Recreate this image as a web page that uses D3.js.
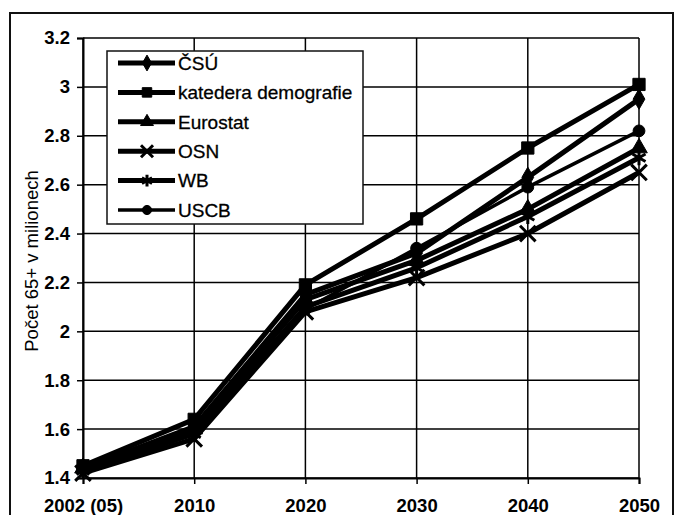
<!DOCTYPE html>
<html lang="cs">
<head>
<meta charset="utf-8">
<title>Počet 65+</title>
<script src="https://cdn.jsdelivr.net/npm/d3@7"></script>
<style>
  body { margin: 0; background: #fff; }
  text { font-family: "Liberation Sans", Arial, sans-serif; fill: #000; }
</style>
</head>
<body>
<script>
// data
var years = ["2002 (05)", "2010", "2020", "2030", "2040", "2050"];
var yTicks = [1.4, 1.6, 1.8, 2, 2.2, 2.4, 2.6, 2.8, 3, 3.2];
var seriesNames = ["ČSÚ", "katedera demografie", "Eurostat", "OSN", "WB", "USCB"];
var csu      = [1.44, 1.61, 2.15, 2.32, 2.63, 2.95];
var katedera = [1.45, 1.64, 2.19, 2.46, 2.75, 3.01];
var eurostat = [1.44, 1.60, 2.13, 2.29, 2.50, 2.75];
var osn      = [1.42, 1.56, 2.08, 2.22, 2.40, 2.65];
var wb       = [1.43, 1.58, 2.10, 2.26, 2.47, 2.71];
var uscb     = [1.44, 1.59, 2.09, 2.34, 2.59, 2.82];

var w = 676, h = 515;
var plotLeft = 83, plotRight = 639, plotTop = 38, plotBottom = 478;

var series = [
  {name: seriesNames[0], values: csu,      symbol: d3.symbolDiamond,  size: 120, fill: true,  width: 5},
  {name: seriesNames[1], values: katedera, symbol: d3.symbolSquare,   size: 150, fill: true,  width: 5},
  {name: seriesNames[2], values: eurostat, symbol: d3.symbolTriangle, size: 120, fill: true,  width: 5},
  {name: seriesNames[3], values: osn,      symbol: d3.symbolTimes,    size: 160, fill: false, width: 5},
  {name: seriesNames[4], values: wb,       symbol: d3.symbolAsterisk, size: 160, fill: false, width: 5},
  {name: seriesNames[5], values: uscb,     symbol: d3.symbolCircle,   size: 110, fill: true,  width: 3.5}
];

var svg = d3.select("body").append("svg")
    .attr("width", w)
    .attr("height", h);

svg.append("rect").attr("width", w).attr("height", h).attr("fill", "#fff");

// outer frame
svg.append("rect")
    .attr("x", 10).attr("y", 13)
    .attr("width", 663).attr("height", 530)
    .attr("fill", "none").attr("stroke", "#111").attr("stroke-width", 2);

var x = d3.scalePoint().domain(years).range([plotLeft, plotRight]).padding(0);
var y = d3.scaleLinear().domain([1.4, 3.2]).range([plotBottom, plotTop]);

// gridlines
svg.append("g").selectAll("line").data(yTicks).enter().append("line")
    .attr("x1", plotLeft).attr("x2", plotRight)
    .attr("y1", function(d) { return y(d); })
    .attr("y2", function(d) { return y(d); })
    .attr("stroke", "#000").attr("stroke-width", 1.5);

svg.append("g").selectAll("line").data(years).enter().append("line")
    .attr("x1", function(d) { return x(d); })
    .attr("x2", function(d) { return x(d); })
    .attr("y1", plotTop).attr("y2", plotBottom)
    .attr("stroke", "#000").attr("stroke-width", 1.5);

// axes
var yAxis = d3.axisLeft(y).tickValues(yTicks).tickSize(6).tickPadding(7)
    .tickFormat(function(d) { return String(d); });
var gy = svg.append("g")
    .attr("transform", "translate(" + plotLeft + ",0)")
    .call(yAxis);
var xAxis = d3.axisBottom(x).tickSize(6).tickPadding(15);
var gx = svg.append("g")
    .attr("transform", "translate(0," + plotBottom + ")")
    .call(xAxis);

[gx, gy].forEach(function(g) {
  g.select(".domain").attr("stroke", "#000").attr("stroke-width", 2);
  g.selectAll(".tick line").attr("stroke", "#000").attr("stroke-width", 1.5);
  g.selectAll(".tick text")
      .style("font-family", "'Liberation Sans', Arial, sans-serif")
      .style("font-size", "18.5px")
      .style("font-weight", "bold")
      .attr("fill", "#000");
});

// y-axis title
svg.append("text")
    .attr("transform", "translate(38," + ((plotTop + plotBottom) / 2 + 3) + ") rotate(-90)")
    .attr("text-anchor", "middle")
    .style("font-size", "18.5px")
    .text("Počet 65+ v milionech");

// lines
var line = d3.line()
    .x(function(d, i) { return x(years[i]); })
    .y(function(d) { return y(d); });

series.forEach(function(s) {
  svg.append("path")
      .datum(s.values)
      .attr("d", line)
      .attr("fill", "none")
      .attr("stroke", "#000")
      .attr("stroke-width", s.width)
      .attr("stroke-linejoin", "round");
});

// markers
series.forEach(function(s) {
  var sym = d3.symbol().type(s.symbol).size(s.size);
  svg.append("g").selectAll("path").data(s.values).enter().append("path")
      .attr("transform", function(d, i) { return "translate(" + x(years[i]) + "," + y(d) + ")"; })
      .attr("d", sym)
      .attr("fill", s.fill ? "#000" : "none")
      .attr("stroke", "#000")
      .attr("stroke-width", s.fill ? 1 : 3);
});

// legend
var legend = svg.append("g");
legend.append("rect")
    .attr("x", 107).attr("y", 51)
    .attr("width", 256).attr("height", 173)
    .attr("fill", "#fff").attr("stroke", "#111").attr("stroke-width", 1.5);

var rows = legend.selectAll("g.row").data(series).enter().append("g")
    .attr("class", "row")
    .attr("transform", function(d, i) { return "translate(0," + (63 + i * 29.4) + ")"; });

rows.append("line")
    .attr("x1", 118).attr("x2", 175)
    .attr("stroke", "#000")
    .attr("stroke-width", function(d) { return d.width; });

rows.append("path")
    .attr("transform", "translate(147,0)")
    .attr("d", function(d) { return d3.symbol().type(d.symbol).size(d.size * 0.6)(); })
    .attr("fill", function(d) { return d.fill ? "#000" : "none"; })
    .attr("stroke", "#000")
    .attr("stroke-width", function(d) { return d.fill ? 1 : 3; });

rows.append("text")
    .attr("x", 178)
    .attr("dy", "0.36em")
    .style("font-size", "19px")
    .style("stroke", "#000")
    .style("stroke-width", 0.3)
    .text(function(d) { return d.name; });
</script>
</body>
</html>
